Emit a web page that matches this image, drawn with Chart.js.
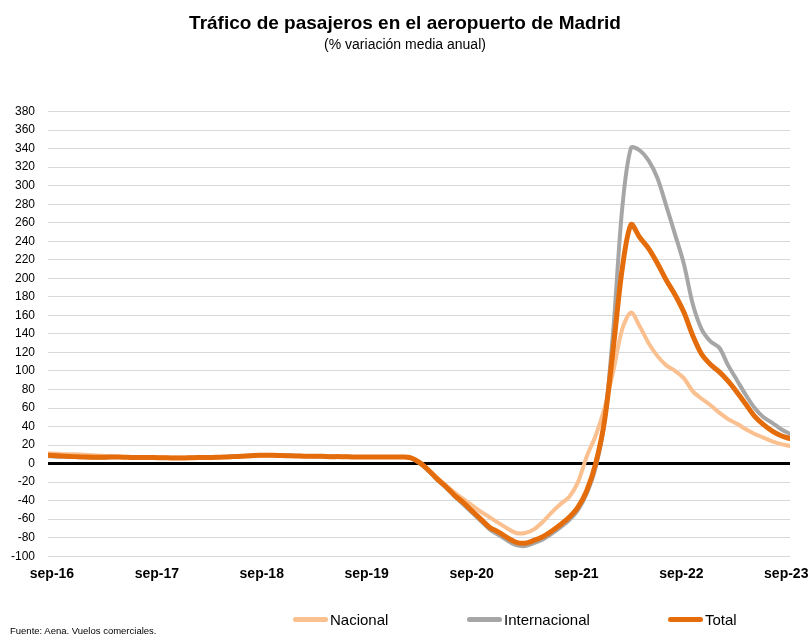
<!DOCTYPE html>
<html>
<head>
<meta charset="utf-8">
<script src="https://cdn.jsdelivr.net/npm/chart.js@4.4.1/dist/chart.umd.min.js"></script>
<style>
  body { margin: 0; background: #fff; font-family: "Liberation Sans", Arial, Helvetica, sans-serif; }
  #wrap { position: relative; width: 810px; height: 635px; }
  #chart { position: absolute; left: 0; top: 0; }
  .leg { position: absolute; top: 609px; height: 20px; display: flex; align-items: center; font-size: 15px; color: #000; }
  .leg span.sw { display: inline-block; width: 35px; height: 5px; border-radius: 3px; margin-right: 2px; }
  #foot { position: absolute; left: 10px; top: 625px; font-size: 9.5px; color: #000; }
</style>
</head>
<body>
<div id="wrap">
  <canvas id="chart" width="810" height="635"></canvas>
  <div class="leg" style="left:293px"><span class="sw" style="background:#FAC090"></span>Nacional</div>
  <div class="leg" style="left:467px"><span class="sw" style="background:#A6A6A6"></span>Internacional</div>
  <div class="leg" style="left:668px"><span class="sw" style="background:#E46C0A"></span>Total</div>
  <div id="foot">Fuente: Aena. Vuelos comerciales.</div>
</div>
<script>
// monthly % annual average variation, sep-16 .. sep-23 (85 months)
const xTickLabels = ['sep-16', 'sep-17', 'sep-18', 'sep-19', 'sep-20', 'sep-21', 'sep-22', 'sep-23'];

const nacional = [
  11, 10.5, 10, 10, 9.5, 9, 8.5, 8, 7.5, 7.2, 7, 7, 7, 6.8, 6.5, 6.5, 6.5, 6.7, 6.8, 7,
  7.2, 7.5, 8, 8.5, 8.8, 9, 8.8, 8.5, 8.3, 8, 8, 7.8, 7.6, 7.5, 7.3, 7.1, 7, 7, 7, 7,
  7, 6.5, 1.5, -6, -15, -23, -31, -38, -45, -52, -58, -64, -70, -75, -75, -71, -63, -53, -44, -36,
  -20, 8, 30, 60, 100, 145, 163, 148, 130, 116, 106, 100, 92, 78, 70, 63, 55, 48, 43, 37,
  32, 28, 24, 21, 19
];

const internacional = [
  8, 7.5, 7.5, 7, 7, 6.5, 6.5, 6.8, 7, 6.8, 6.5, 6.3, 6.3, 6, 6, 6, 6.2, 6.5, 6.6, 6.8,
  7.2, 7.8, 8.3, 8.8, 9.2, 9.2, 9, 8.7, 8.5, 8.2, 8, 7.8, 7.6, 7.5, 7.3, 7.1, 7, 7, 7, 7,
  7, 6.5, 1, -7, -17, -25.5, -35, -44, -53, -62, -71, -77, -83, -88, -89, -86, -82, -76, -69, -61,
  -50, -32, -4, 45, 145, 275, 341, 338, 327, 308, 278, 247, 215, 172, 145, 132, 125, 106, 90, 74,
  60, 50, 44, 37, 32
];

const total = [
  9, 8.5, 8, 7.5, 7, 6.8, 6.8, 7, 7, 6.8, 6.5, 6.5, 6.5, 6.3, 6, 6, 6.2, 6.5, 6.5, 6.8,
  7, 7.5, 8, 8.5, 9, 9, 8.8, 8.5, 8.3, 8, 8, 7.8, 7.5, 7.5, 7.3, 7, 7, 7, 7, 7,
  7, 6.5, 1.5, -6.5, -16, -24.5, -34, -42, -51, -60, -69, -74, -80, -85, -86, -83, -79, -73, -66, -58,
  -47, -29, 0, 46, 125, 210, 258, 244, 232, 216, 198, 182, 163, 138, 118, 107, 99, 89, 77, 64,
  51, 42, 35, 30, 27
];

function toPoints(arr) {
  return arr.map((v, i) => ({ x: i, y: v }));
}

const ctx = document.getElementById('chart').getContext('2d');
const chart = new Chart(ctx, {
  type: 'line',
  data: {
    datasets: [
      { label: 'Total', data: toPoints(total), borderColor: '#E46C0A', borderWidth: 5, order: 1 },
      { label: 'Internacional', data: toPoints(internacional), borderColor: '#A6A6A6', borderWidth: 4, order: 2 },
      { label: 'Nacional', data: toPoints(nacional), borderColor: '#FAC090', borderWidth: 4, order: 3 }
    ]
  },
  options: {
    responsive: false,
    devicePixelRatio: 1,
    animation: false,
    layout: { padding: { left: 0, right: 0, top: 0, bottom: 42 } },
    elements: {
      point: { radius: 0 },
      line: { tension: 0.3, borderCapStyle: 'round', borderJoinStyle: 'round' }
    },
    plugins: {
      legend: { display: false },
      tooltip: { enabled: false },
      title: {
        display: true,
        text: 'Tráfico de pasajeros en el aeropuerto de Madrid',
        color: '#000',
        font: { family: 'Liberation Sans', size: 19, weight: 'bold' },
        padding: { top: 12, bottom: 2 }
      },
      subtitle: {
        display: true,
        text: '(% variación media anual)',
        color: '#000',
        font: { family: 'Liberation Sans', size: 14 },
        padding: { top: 0, bottom: 58 }
      }
    },
    scales: {
      x: {
        type: 'linear',
        min: 0,
        max: 84,
        afterBuildTicks: (scale) => {
          scale.ticks = xTickLabels.map((l, k) => ({ value: 0.45 + k * 11.875 }));
        },
        afterFit: (scale) => { scale.paddingLeft = 0; scale.paddingRight = 0; },
        grid: { display: false, drawTicks: false },
        border: { display: false },
        ticks: {
          autoSkip: false,
          maxRotation: 0,
          padding: 10,
          color: '#000',
          font: { family: 'Liberation Sans', size: 14, weight: 'bold' },
          callback: (v, i) => xTickLabels[i]
        }
      },
      y: {
        min: -100,
        max: 380,
        afterFit: (scale) => { scale.width = 48; },
        grid: {
          drawTicks: false,
          color: (c) => c.tick && c.tick.value === 0 ? '#000' : '#D9D9D9',
          lineWidth: (c) => c.tick && c.tick.value === 0 ? 3 : 1
        },
        border: { display: false },
        ticks: {
          stepSize: 20,
          padding: 13,
          color: '#000',
          font: { family: 'Liberation Sans', size: 12 }
        }
      },
      // empty right-hand axis only reserves the right margin
      yRight: {
        position: 'right',
        min: -100,
        max: 380,
        afterFit: (scale) => { scale.width = 20; },
        grid: { display: false, drawTicks: false },
        border: { display: false },
        ticks: { display: false }
      }
    }
  }
});
</script>
</body>
</html>
